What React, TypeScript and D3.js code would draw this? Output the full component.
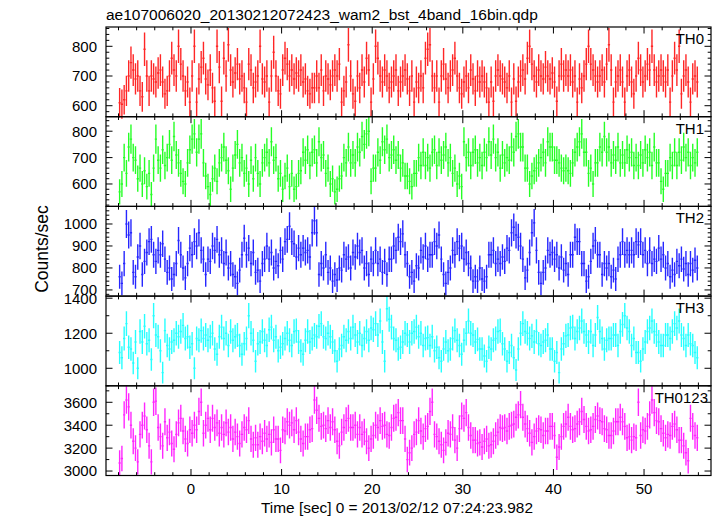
import React from 'react';
import * as d3 from 'd3';

const TITLE = 'ae107006020_20130212072423_wam2_bst_4band_16bin.qdp';
const X_LABEL = 'Time [sec] 0 = 2013/02/12 07:24:23.982';
const Y_LABEL = 'Counts/sec';
const T_START = -7.875;
const BIN = 0.25;
const X_MAJOR = [0, 10, 20, 30, 40, 50];

const TH0 = [
  610,605,620,650,700,745,720,690,700,650,630,790,700,650,700,690,
  680,710,720,680,640,650,700,760,720,700,800,740,700,650,680,612,
  700,800,612,690,730,760,690,670,720,660,615,800,730,615,760,700,
  805,720,680,710,740,690,700,660,612,740,720,660,680,700,800,690,
  680,700,612,700,780,700,650,640,720,760,740,700,720,690,710,700,
  720,680,690,650,640,660,660,700,660,720,650,700,690,670,700,720,
  700,740,612,650,680,805,700,640,615,700,660,720,680,760,720,612,
  690,800,760,700,680,720,700,660,680,700,720,650,680,700,720,690,
  650,700,612,680,660,700,660,760,790,805,700,660,700,612,700,740,
  690,660,700,720,760,700,660,640,680,700,660,720,690,650,700,680,
  700,680,660,612,680,615,700,720,700,690,680,660,700,612,690,615,
  680,700,720,690,760,800,740,700,680,720,700,690,730,700,690,710,
  680,615,700,740,700,720,700,720,680,700,612,690,660,700,740,800,
  740,720,700,680,700,720,680,740,805,720,612,680,700,720,680,612,
  700,720,680,640,700,760,720,680,700,740,720,800,720,680,700,720,
  700,680,720,612,700,760,720,800,640,700,720,680,612,690,700,680,
];

const TH1 = [
  570,600,700,640,740,770,700,690,620,660,600,650,590,640,560,660,
  770,690,660,730,670,700,750,690,780,710,680,640,610,600,680,730,
  770,790,720,770,790,680,630,590,560,620,660,610,680,700,740,690,
  650,580,660,710,750,680,700,640,660,600,690,620,700,640,600,680,
  700,720,680,760,690,700,620,640,580,630,660,590,640,580,590,640,
  650,720,690,730,670,720,730,680,760,700,710,640,660,600,620,570,
  580,620,630,700,680,740,680,710,680,740,720,780,750,790,800,610,
  660,660,720,690,760,730,770,700,710,730,690,710,660,680,630,630,
  610,590,640,640,700,670,720,670,700,660,720,730,670,720,690,710,
  740,680,700,640,660,600,630,590,760,700,720,670,720,730,680,700,
  670,720,700,760,710,770,700,720,660,710,680,700,690,740,720,780,
  790,740,740,660,660,600,630,650,660,680,700,720,680,760,740,740,
  690,690,680,660,650,660,650,640,680,720,740,760,790,720,720,640,
  660,600,680,680,740,720,780,720,740,680,710,690,740,680,710,680,
  730,700,720,670,700,670,710,680,730,700,720,670,740,680,680,610,
  580,640,640,700,670,720,670,720,690,740,700,720,670,700,680,720,
];

const TH2 = [
  760,730,820,1000,950,960,780,760,850,900,770,830,870,920,930,860,
  830,880,860,910,840,780,800,750,770,820,925,860,800,755,820,890,
  860,920,900,960,880,840,770,840,830,900,880,930,860,880,820,870,
  800,820,770,760,730,790,860,935,860,890,820,870,780,790,740,820,
  840,900,840,870,800,830,810,880,840,920,930,990,920,910,850,890,
  860,890,870,880,850,960,1015,960,770,820,800,860,780,800,740,770,
  745,800,790,860,840,850,800,870,850,900,870,880,800,820,770,840,
  820,880,820,840,780,830,770,840,840,900,880,940,920,955,860,820,
  760,780,740,810,800,880,850,900,840,860,860,920,900,950,840,770,
  730,780,800,880,860,920,890,900,840,870,820,800,740,760,740,800,
  750,740,760,860,860,880,820,840,820,850,830,890,880,960,985,950,
  940,900,840,755,790,870,960,1005,880,780,730,780,800,880,860,870,
  840,860,800,850,790,820,770,860,860,940,920,920,820,820,740,760,
  830,900,925,860,860,770,820,800,820,760,790,750,840,860,920,860,
  880,860,880,860,920,905,920,860,880,820,880,820,840,830,890,840,
  860,800,820,760,790,770,830,810,840,795,820,770,820,790,835,800,
];

const TH3 = [
  1090,1060,1170,1255,1120,1110,1030,1150,1000,1210,1150,1240,1140,1160,1050,1300,
  1190,1180,1100,975,1215,1130,1110,1150,1160,1200,1180,1210,1245,1170,1180,1120,
  1140,1000,1170,1160,1215,1170,1190,1160,1180,1200,1110,1080,1180,1235,1170,1200,
  1130,1210,1160,1180,1190,1130,1080,1140,1170,1300,1200,1160,1040,1140,1150,1210,
  1160,1130,1220,1235,1160,1180,1100,1120,1140,1170,1200,1160,1130,1210,1215,1150,
  1100,1080,1160,1210,1150,1170,1190,1180,1240,1255,1180,1170,1200,1180,1150,1100,
  1040,1110,1130,1180,1160,1210,1170,1235,1190,1150,1200,1130,1170,1210,1160,1230,
  1220,1255,1190,1270,1150,1040,1340,1280,1235,1170,1160,1110,1120,1150,1200,1190,
  1150,1200,1210,1235,1180,1200,1130,1170,1175,1130,1180,1100,1120,1060,1040,1110,
  1150,1100,1110,1170,1215,1160,1130,1080,1160,1200,1270,1200,1190,1150,1165,1110,
  1110,1070,1040,1120,1110,1160,1170,1210,1215,1140,1110,1040,1090,1130,1060,990,
  1110,1200,1255,1210,1200,1170,1185,1150,1210,1140,1130,1150,1160,1190,1110,1110,
  1040,1090,975,1110,1140,1185,1190,1230,1235,1170,1210,1230,1270,1210,1190,1150,
  1210,1130,1190,1290,1210,1170,1110,1160,1170,1170,1190,1190,1130,1210,1250,1300,
  1230,1210,1130,1170,1090,1090,1040,1110,1150,1210,1230,1270,1210,1190,1150,1130,
  1130,1190,1190,1170,1210,1255,1230,1270,1190,1170,1130,1190,1140,1130,1090,1060,
];

const TH0123 = [
  3070,3110,3490,3620,3560,3400,3260,3200,3080,3320,3400,3480,3360,3220,3080,3600,
  3610,3380,3300,3220,3430,3290,3340,3240,3190,3320,3420,3460,3350,3280,3240,3360,
  3330,3400,3360,3520,3600,3330,3400,3460,3360,3460,3380,3420,3330,3380,3320,3420,
  3340,3380,3280,3340,3300,3240,3320,3380,3360,3440,3280,3230,3290,3230,3300,3260,
  3330,3280,3320,3250,3360,3280,3280,3180,3360,3350,3430,3400,3420,3360,3440,3340,
  3280,3240,3300,3300,3360,3370,3620,3530,3460,3390,3400,3370,3440,3380,3430,3360,
  3260,3220,3340,3380,3440,3460,3380,3380,3400,3320,3380,3320,3340,3260,3200,3280,
  3310,3400,3380,3440,3390,3400,3320,3310,3380,3460,3470,3510,3440,3440,3280,3100,
  3160,3200,3320,3340,3440,3350,3300,3370,3390,3520,3600,3320,3300,3260,3230,3180,
  3250,3330,3320,3380,3270,3200,3370,3480,3460,3510,3380,3310,3270,3270,3240,3250,
  3210,3260,3280,3220,3230,3260,3310,3340,3380,3370,3380,3350,3390,3400,3410,3470,
  3490,3580,3470,3410,3370,3330,3250,3300,3350,3370,3360,3310,3350,3350,3390,3390,
  3310,3120,3210,3300,3390,3410,3470,3390,3360,3370,3410,3430,3520,3450,3390,3350,
  3360,3390,3450,3480,3440,3430,3370,3360,3310,3310,3350,3430,3430,3470,3430,3390,
  3290,3300,3270,3300,3290,3600,3310,3360,3350,3390,3490,3620,3510,3440,3430,3370,
  3330,3290,3320,3310,3390,3410,3360,3270,3270,3220,3160,3090,3460,3390,3310,3290,
];

const NAMES = ['TH0', 'TH1', 'TH2', 'TH3', 'TH0123'];
const SERIES = [TH0, TH1, TH2, TH3, TH0123];
const COLORS = ['#ff0000', '#00ff00', '#0000ff', '#00ffff', '#ff00ff'];
const Y_DOMAINS = [[563, 865], [515, 855], [672, 1080], [900, 1412], [2961, 3744]];
const Y_MAJOR = [[600, 700, 800], [600, 700, 800], [700, 800, 900, 1000], [1000, 1200, 1400], [3000, 3200, 3400, 3600]];
const Y_MINOR_STEP = [20, 20, 20, 100, 100];

const W = 717, H = 516;
const LEFT = 106, RIGHT = 711, TOP = 27, BOTTOM = 475.5;
const PH = (BOTTOM - TOP) / 5;
const FONT = '"Liberation Sans", Arial, Helvetica, sans-serif';
const MAJ = 6.5, MIN = 3.3;

export default function App() {
  const x = d3.scaleLinear().domain([-9.38, 57.39]).range([LEFT, RIGHT]);
  const xMinor = d3.range(-8, 57, 2).filter(v => !X_MAJOR.includes(v));

  const panels = SERIES.map((vals, p) => {
    const top = TOP + p * PH;
    const bot = top + PH;
    const [lo, hi] = Y_DOMAINS[p];
    const y = d3.scaleLinear().domain([lo, hi]).range([bot, top]);
    const path = d3.path();
    vals.forEach((v, i) => {
      const t = T_START + i * BIN;
      const e = 2 * Math.sqrt(v);
      path.moveTo(x(t - BIN / 2), y(v));
      path.lineTo(x(t + BIN / 2), y(v));
      path.moveTo(x(t), y(v - e));
      path.lineTo(x(t), y(v + e));
    });
    const step = Y_MINOR_STEP[p];
    const yMinor = d3.range(Math.ceil(lo / step) * step, hi, step).filter(v => !Y_MAJOR[p].includes(v));
    return { top, bot, y, d: path.toString(), yMinor, p };
  });

  const tickLines: JSX.Element[] = [];
  panels.forEach(({ top, bot, y, yMinor, p }) => {
    Y_MAJOR[p].forEach(v => {
      const yy = y(v);
      tickLines.push(<line key={`ym${p}-${v}`} x1={LEFT} x2={LEFT + MAJ} y1={yy} y2={yy} />);
      tickLines.push(<line key={`ymr${p}-${v}`} x1={RIGHT} x2={RIGHT - MAJ} y1={yy} y2={yy} />);
    });
    yMinor.forEach(v => {
      const yy = y(v);
      tickLines.push(<line key={`yn${p}-${v}`} x1={LEFT} x2={LEFT + MIN} y1={yy} y2={yy} />);
      tickLines.push(<line key={`ynr${p}-${v}`} x1={RIGHT} x2={RIGHT - MIN} y1={yy} y2={yy} />);
    });
    X_MAJOR.forEach(v => {
      const xx = x(v);
      tickLines.push(<line key={`xm${p}-${v}`} x1={xx} x2={xx} y1={top} y2={top + MAJ} />);
      tickLines.push(<line key={`xmb${p}-${v}`} x1={xx} x2={xx} y1={bot} y2={bot - MAJ} />);
    });
    xMinor.forEach(v => {
      const xx = x(v);
      tickLines.push(<line key={`xn${p}-${v}`} x1={xx} x2={xx} y1={top} y2={top + MIN} />);
      tickLines.push(<line key={`xnb${p}-${v}`} x1={xx} x2={xx} y1={bot} y2={bot - MIN} />);
    });
  });

  return (
    <svg width={W} height={H} style={{ position: 'absolute', left: 0, top: 0, background: '#fff' }}
      fontFamily={FONT}>
      <rect x={0} y={0} width={W} height={H} fill="#fff" />
      {panels.map(({ d, p }) => (
        <path key={`data${p}`} d={d} stroke={COLORS[p]} strokeWidth={1.4} strokeOpacity={0.85} fill="none" />
      ))}
      <g stroke="#000" strokeWidth={1}>{tickLines}</g>
      {panels.map(({ top, p }) => (
        <rect key={`frame${p}`} x={LEFT} y={top} width={RIGHT - LEFT} height={PH}
          fill="none" stroke="#000" strokeWidth={1.2} />
      ))}
      {panels.map(({ y, p }) => Y_MAJOR[p].map(v => (
        <text key={`yl${p}-${v}`} x={97} y={y(v)} dy="0.36em" textAnchor="end" fontSize={15}>{v}</text>
      )))}
      {panels.map(({ top, p }) => (
        <text key={`name${p}`} x={p === 4 ? 708 : 704} y={top + 17} textAnchor="end" fontSize={15}>{NAMES[p]}</text>
      ))}
      {X_MAJOR.map(v => (
        <text key={`xl${v}`} x={x(v)} y={494} textAnchor="middle" fontSize={15}>{v}</text>
      ))}
      <text x={106} y={20} fontSize={15.5}>{TITLE}</text>
      <text x={397} y={513} textAnchor="middle" fontSize={15.4}>{X_LABEL}</text>
      <text transform={`translate(48,249) rotate(-90)`} textAnchor="middle" fontSize={17.5}>{Y_LABEL}</text>
    </svg>
  );
}
